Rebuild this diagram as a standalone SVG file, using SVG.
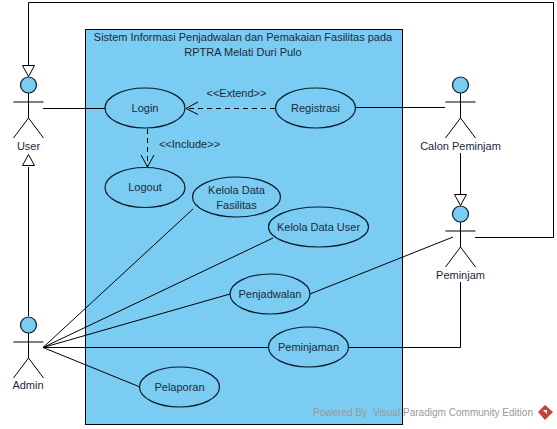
<svg xmlns="http://www.w3.org/2000/svg" width="557" height="429" viewBox="0 0 557 429">
<style>
text{font-family:"Liberation Sans",Arial,sans-serif;font-size:11px;fill:#1a2a3a;text-anchor:middle}
.uc{fill:#7accf2;stroke:#0a1a2a;stroke-width:1.2}
.ln{fill:none;stroke:#000;stroke-width:1}
.gen{fill:#fff;stroke:#000;stroke-width:1}
text.wm{font-size:10.500px;fill:#999;text-anchor:start}
</style>
<defs>
<g id="actor" class="ln"><circle cx="0" cy="0" r="8" fill="#7accf2" stroke="#0a1a2a" stroke-width="1.2"/><path d="M0 8V33M-15 17H15M-15 53L0 33L15 53"/></g>
</defs>
<rect width="557" height="429" fill="#fff"/>
<g id="system"><rect x="85.500" y="29.500" width="317" height="395" fill="#7accf2" stroke="#000" stroke-width="1"/>
<text x="243" y="41">Sistem Informasi Penjadwalan dan Pemakaian Fasilitas pada</text>
<text x="243" y="56">RPTRA Melati Duri Pulo</text></g>
<g id="connectors">
<path class="ln" d="M28.500 65V2.500H553.500V237.500H475"/>
<path class="gen" d="M22.500 65.500H34.500L28.500 76.500Z"/>
<path class="ln" d="M28.500 316V167"/>
<path class="gen" d="M22.500 165.500H34.500L28.500 154.500Z"/>
<path class="ln" d="M460.500 153V194"/>
<path class="gen" d="M454.500 194.500H466.500L460.500 205.500Z"/>
<path class="ln" d="M43 108.500H105"/>
<path class="ln" d="M356 107.500H445"/>
<path class="ln" stroke-dasharray="5 4" d="M275 108.500H186"/>
<path class="ln" d="M198 102L186 108.500L198 114.500"/>
<path class="ln" stroke-dasharray="5 4" d="M147.500 129V166"/>
<path class="ln" d="M141 155L147.500 167L154 155"/>
<text x="236.500" y="97">&lt;&lt;Extend&gt;&gt;</text>
<text x="189.500" y="148">&lt;&lt;Include&gt;&gt;</text>
<path class="ln" d="M43 347.500L193 209M43 347.500L273 238M43 347.500L230 294M43 347.500H268M43 347.500L140 387M310 294L453 237"/>
<path class="ln" d="M349 347.500H460.500V282"/>
</g>
<g id="user"><use href="#actor" x="28.500" y="85"/><text x="28.500" y="150">User</text></g>
<g id="admin"><use href="#actor" x="28.500" y="325"/><text x="28" y="389">Admin</text></g>
<g id="calon"><use href="#actor" x="460.500" y="85"/><text x="460.500" y="150">Calon Peminjam</text></g>
<g id="peminjam"><use href="#actor" x="460.500" y="214"/><text x="460.500" y="279">Peminjam</text></g>
<g id="login"><ellipse class="uc" cx="145" cy="108" rx="40" ry="20"/><text x="145" y="112">Login</text></g>
<g id="logout"><ellipse class="uc" cx="145" cy="187.500" rx="40" ry="20"/><text x="145" y="191">Logout</text></g>
<g id="registrasi"><ellipse class="uc" cx="315.500" cy="108" rx="40" ry="20"/><text x="315.500" y="112">Registrasi</text></g>
<g id="fasilitas"><ellipse class="uc" cx="236.500" cy="197" rx="44" ry="20"/><text x="236.500" y="194">Kelola Data</text><text x="236.500" y="209">Fasilitas</text></g>
<g id="kelola-user"><ellipse class="uc" cx="318.500" cy="227" rx="50" ry="20"/><text x="318.500" y="231">Kelola Data User</text></g>
<g id="penjadwalan"><ellipse class="uc" cx="270" cy="294" rx="40" ry="20"/><text x="270" y="298">Penjadwalan</text></g>
<g id="peminjaman"><ellipse class="uc" cx="308.500" cy="347" rx="40" ry="20"/><text x="308.500" y="351">Peminjaman</text></g>
<g id="pelaporan"><ellipse class="uc" cx="179.500" cy="387" rx="40" ry="20"/><text x="179.500" y="391">Pelaporan</text></g>
<g id="watermark"><text class="wm" x="313" y="416" textLength="54" lengthAdjust="spacingAndGlyphs">Powered By</text><text class="wm" x="373" y="416" textLength="160" lengthAdjust="spacingAndGlyphs">Visual Paradigm Community Edition</text>
<path d="M545 405L553 412L545 420L538 412Z" fill="#c8403a"/><path d="M543 410L547 410L547 414Z" fill="#fff"/></g>
</svg>
